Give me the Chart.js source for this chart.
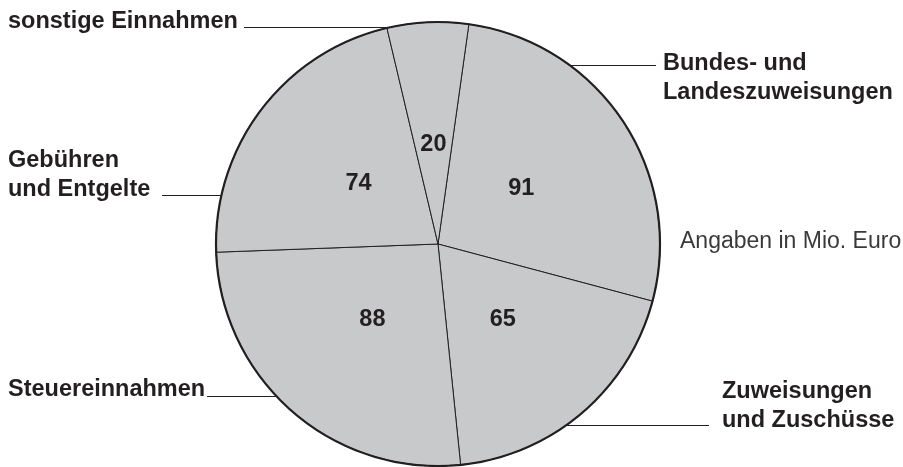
<!DOCTYPE html>
<html>
<head>
<meta charset="utf-8">
<script src="https://cdn.jsdelivr.net/npm/chart.js@4"></script>
<style>
  html, body { margin: 0; padding: 0; background: #fff; }
  #wrap { width: 903px; height: 467px; position: relative; }
</style>
</head>
<body>
<div id="wrap"><canvas id="pie"></canvas></div>
<script>
const categories = ["Bundes- und Landeszuweisungen", "Zuweisungen und Zuschüsse", "Steuereinnahmen", "Gebühren und Entgelte", "sonstige Einnahmen"];
const values = [91, 65, 88, 74, 20];
const labelLines = [["Bundes- und", "Landeszuweisungen"], ["Zuweisungen", "und Zuschüsse"], ["Steuereinnahmen"], ["Gebühren", "und Entgelte"], ["sonstige Einnahmen"]];
const note = "Angaben in Mio. Euro";

const ink = '#231f20';
const font = '"Liberation Sans", Arial, Helvetica, sans-serif';

// baseline of first text line, leader line height and its outer end
const callouts = [
  { x: 663, y: 70, lineY: 65, lineEnd: 656, side: 'right' },
  { x: 722, y: 398, lineY: 425, lineEnd: 709, side: 'right' },
  { x: 8, y: 396, lineY: 396, lineEnd: 207, side: 'left' },
  { x: 8, y: 167, lineY: 195, lineEnd: 162, side: 'left' },
  { x: 8, y: 28, lineY: 27, lineEnd: 244, side: 'left' }
];

const pieLabels = {
  id: 'pieLabels',
  afterDatasetsDraw(chart) {
    const c = chart.ctx;
    const arcs = chart.getDatasetMeta(0).data;
    const cx = arcs[0].x, cy = arcs[0].y, r = arcs[0].outerRadius;

    // heavier outer rim
    c.save();
    c.beginPath();
    c.arc(cx, cy, r, 0, Math.PI * 2);
    c.lineWidth = 2.2;
    c.strokeStyle = ink;
    c.stroke();

    // values inside the slices
    c.fillStyle = ink;
    c.font = 'bold 23.5px ' + font;
    c.textAlign = 'center';
    c.textBaseline = 'middle';
    arcs.forEach((a, i) => {
      const mid = (a.startAngle + a.endAngle) / 2;
      c.fillText(String(values[i]), cx + Math.cos(mid) * r * 0.45, cy + Math.sin(mid) * r * 0.45);
    });

    // outside labels with leader lines
    c.textAlign = 'left';
    c.textBaseline = 'alphabetic';
    c.lineWidth = 1;
    callouts.forEach((p, i) => {
      labelLines[i].forEach((t, k) => c.fillText(t, p.x, p.y + k * 29));
      const dx = Math.sqrt(Math.max(r * r - (p.lineY - cy) * (p.lineY - cy), 0));
      const edge = p.side === 'left' ? cx - dx : cx + dx;
      c.beginPath();
      c.moveTo(p.lineEnd, p.lineY + 0.5);
      c.lineTo(edge, p.lineY + 0.5);
      c.stroke();
    });

    c.font = '23px ' + font;
    c.fillStyle = '#3a3a3a';
    c.fillText(note, 680, 248);
    c.restore();
  }
};

new Chart(document.getElementById('pie'), {
  type: 'pie',
  data: {
    labels: categories,
    datasets: [{
      data: values,
      backgroundColor: '#c8c9cb',
      borderColor: ink,
      borderWidth: 1
    }]
  },
  options: {
    responsive: true,
    maintainAspectRatio: false,
    animation: false,
    rotation: 8,
    radius: 222,
    layout: { padding: { left: 216, right: 243, top: 22, bottom: 1 } },
    plugins: {
      legend: { display: false },
      tooltip: { enabled: false }
    }
  },
  plugins: [pieLabels]
});
</script>
</body>
</html>
